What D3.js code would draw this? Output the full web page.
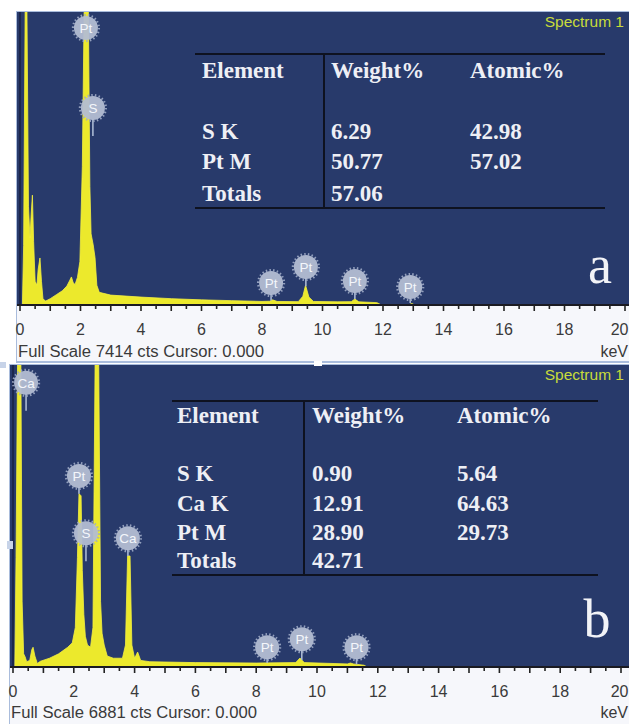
<!DOCTYPE html>
<html>
<head>
<meta charset="utf-8">
<script src="https://cdn.jsdelivr.net/npm/d3@7"></script>
<style>
  html, body { margin: 0; padding: 0; background: #ffffff; }
  svg { display: block; }
</style>
</head>
<body>
<svg id="chart" width="629" height="724"></svg>
<script>
// ---------------- DATA ----------------
// Spectrum a (keV, counts), full scale 7414 cts
const energyA = [0, 0.08, 0.12, 0.17, 0.23, 0.28, 0.33, 0.37, 0.41, 0.45, 0.5, 0.56, 0.6, 0.66, 0.71, 0.76, 0.85, 1.0, 1.2, 1.4, 1.55, 1.65, 1.7, 1.76, 1.82, 1.9, 1.98, 2.06, 2.12, 2.26, 2.31, 2.35, 2.42, 2.48, 2.54, 2.62, 3.0, 4.0, 5.0, 6.0, 7.0, 8.0, 8.25, 8.35, 8.5, 9.2, 9.35, 9.44, 9.55, 9.7, 10.5, 10.95, 11.07, 11.2, 11.8, 11.95, 12.85, 12.95, 13.05, 20];
const countsA = [0, 0, 1500, 7414, 7414, 2500, 1700, 2300, 2780, 1600, 600, 500, 900, 1190, 600, 150, 100, 160, 260, 360, 480, 630, 710, 560, 520, 700, 1100, 3500, 7414, 7414, 3000, 1800, 1520, 1200, 500, 320, 250, 200, 160, 130, 110, 90, 95, 130, 90, 85, 220, 500, 200, 90, 80, 85, 150, 80, 60, 0, 0, 40, 0, 0];
const fullScaleA = 7414;

// Spectrum b (keV, counts), full scale 6881 cts
const energyB = [0, 0.06, 0.1, 0.15, 0.26, 0.3, 0.35, 0.4, 0.45, 0.55, 0.62, 0.66, 0.72, 0.8, 0.9, 1.2, 1.5, 1.8, 1.95, 2.05, 2.12, 2.17, 2.24, 2.28, 2.33, 2.38, 2.45, 2.55, 2.63, 2.7, 2.82, 2.88, 2.93, 3.0, 3.1, 3.3, 3.6, 3.7, 3.77, 3.85, 3.91, 4.0, 4.1, 4.2, 4.5, 6.0, 8.0, 9.3, 9.44, 9.58, 11.0, 11.1, 11.2, 11.55, 11.65, 20];
const countsB = [0, 0, 2500, 6881, 6881, 1500, 300, 230, 120, 150, 400, 450, 250, 80, 130, 200, 300, 450, 550, 900, 2500, 3950, 3900, 2200, 1200, 700, 500, 450, 900, 6881, 6881, 1500, 770, 500, 250, 200, 200, 500, 2530, 2530, 500, 200, 340, 150, 120, 100, 90, 100, 203, 100, 70, 90, 70, 40, 0, 0];
const fullScaleB = 6881;

// Peak labels
const labelTextA = ["Pt", "S", "Pt", "Pt", "Pt", "Pt"];
const labelKevA  = [2.18, 2.41, 8.3, 9.45, 11.07, 12.9];
const labelCntA  = [7008, 4984, 556, 961, 607, 455];

const labelTextB = ["Ca", "Pt", "S", "Ca", "Pt", "Pt", "Pt"];
const labelKevB  = [0.43, 2.17, 2.4, 3.78, 8.36, 9.5, 11.3];
const labelCntB  = [6475, 4354, 3046, 2933, 451, 632, 451];

// Quantification tables
const tableHeader = ["Element", "Weight%", "Atomic%"];
const elementsA = ["S K", "Pt M", "Totals"];
const weightA   = ["6.29", "50.77", "57.06"];
const atomicA   = ["42.98", "57.02", ""];
const elementsB = ["S K", "Ca K", "Pt M", "Totals"];
const weightB   = ["0.90", "12.91", "28.90", "42.71"];
const atomicB   = ["5.64", "64.63", "29.73", ""];

const xTickLabels = [0, 2, 4, 6, 8, 10, 12, 14, 16, 18, 20];
const panelLetters = ["a", "b"];

// ---------------- DRAW ----------------
const svg = d3.select("#chart");
const BG = "#283a6b";
const YEL = "#ece92c";

function panel(cfg) {
  const g = svg.append("g");
  g.append("rect").attr("x", cfg.left - 1).attr("y", cfg.top - 1)
    .attr("width", 629 - cfg.left + 1).attr("height", cfg.frameBottom - cfg.top + 2)
    .attr("fill", "#a9bcdc");
  g.append("rect").attr("x", cfg.left).attr("y", cfg.axisTop)
    .attr("width", 629 - cfg.left).attr("height", cfg.frameBottom - cfg.axisTop - 1)
    .attr("fill", "#f6f7fb");
  g.append("rect").attr("x", cfg.left).attr("y", cfg.top)
    .attr("width", 629 - cfg.left).attr("height", cfg.base - cfg.top)
    .attr("fill", BG);

  const x = d3.scaleLinear().domain([0, 20]).range([cfg.x0, cfg.x20]);
  const y = d3.scaleLinear().domain([0, cfg.fullScale]).range([cfg.base, cfg.top]);

  const clipId = "clip" + cfg.id;
  svg.append("clipPath").attr("id", clipId).append("rect")
    .attr("x", cfg.left).attr("y", cfg.top).attr("width", 629 - cfg.left).attr("height", cfg.base - cfg.top);

  const pts = cfg.energy.map((e, i) => [e, Math.min(cfg.counts[i], cfg.fullScale * 1.02)]);
  const area = d3.area().x(d => x(d[0])).y0(cfg.base).y1(d => y(d[1]));
  g.append("path").datum(pts).attr("d", area).attr("fill", YEL)
    .attr("stroke", "#f4f040").attr("stroke-width", 0.8).attr("clip-path", `url(#${clipId})`);

  g.append("line").attr("x1", x(0)).attr("x2", x(0)).attr("y1", cfg.top).attr("y2", cfg.base)
    .attr("stroke", "#141c38").attr("stroke-width", 1.2);
  g.append("line").attr("x1", cfg.left).attr("x2", 629).attr("y1", cfg.base).attr("y2", cfg.base)
    .attr("stroke", "#1a1a22").attr("stroke-width", 2);

  const ticks = d3.range(0, 20.01, 0.5);
  g.selectAll(".tk").data(ticks).join("line")
    .attr("x1", d => x(d)).attr("x2", d => x(d))
    .attr("y1", cfg.base).attr("y2", d => cfg.base + (Math.abs(d - Math.round(d)) < 1e-6 ? 6 : 4))
    .attr("stroke", "#222").attr("stroke-width", 1.6);

  g.selectAll(".tl").data(xTickLabels).join("text")
    .attr("x", d => d === 20 ? 628.5 : x(d)).attr("y", cfg.tickBase)
    .attr("text-anchor", d => d === 20 ? "end" : "middle")
    .attr("font-family", "Liberation Sans, Arial, sans-serif").attr("font-size", 16)
    .attr("fill", "#3a3a3a").text(d => d);

  g.append("text").attr("x", cfg.left + 1).attr("y", cfg.fsBase)
    .attr("font-family", "Liberation Sans, Arial, sans-serif").attr("font-size", 16)
    .attr("fill", "#3a3a3a").attr("textLength", 246).attr("lengthAdjust", "spacingAndGlyphs")
    .text(`Full Scale ${cfg.fullScale} cts Cursor: 0.000`);
  g.append("text").attr("x", 628).attr("y", cfg.fsBase).attr("text-anchor", "end")
    .attr("font-family", "Liberation Sans, Arial, sans-serif").attr("font-size", 16)
    .attr("fill", "#3a3a3a").text("keV");

  g.append("text").attr("x", 624).attr("y", cfg.top + 15).attr("text-anchor", "end")
    .attr("font-family", "Liberation Sans, Arial, sans-serif").attr("font-size", 15.5)
    .attr("fill", "#c9dc3a").text("Spectrum 1");

  const R = 12;
  const interp = e => {
    for (let i = 1; i < cfg.energy.length; i++) {
      if (cfg.energy[i] >= e) {
        const t = (e - cfg.energy[i - 1]) / (cfg.energy[i] - cfg.energy[i - 1]);
        return cfg.counts[i - 1] + t * (cfg.counts[i] - cfg.counts[i - 1]);
      }
    }
    return 0;
  };
  cfg.labelText.forEach((t, i) => {
    const cx = x(cfg.labelKev[i]), cy = y(cfg.labelCnt[i]);
    const peakY = Math.min(cfg.base - 2, y(Math.min(interp(cfg.labelKev[i]), cfg.fullScale)));
    const stemEnd = Math.min(peakY, cy + R + 16);
    if (stemEnd > cy + R) {
      g.append("line").attr("x1", cx).attr("x2", cx).attr("y1", cy + R - 1).attr("y2", stemEnd)
        .attr("stroke", "#a9b8d2").attr("stroke-width", 1.6);
    }
    g.append("circle").attr("cx", cx).attr("cy", cy).attr("r", R + 1)
      .attr("fill", "none").attr("stroke", "#9eabc6").attr("stroke-width", 2.2)
      .attr("stroke-dasharray", "1.5 2.2").attr("opacity", 0.9);
    g.append("circle").attr("cx", cx).attr("cy", cy).attr("r", R)
      .attr("fill", "#b3bdd3").attr("opacity", 0.95);
    g.append("text").attr("x", cx).attr("y", cy + 5).attr("text-anchor", "middle")
      .attr("font-family", "Liberation Sans, Arial, sans-serif").attr("font-size", 13.5)
      .attr("fill", "#f4f6fb").text(t);
  });

  const tb = cfg.table;
  const serif = "Liberation Serif, Times New Roman, serif";
  g.append("line").attr("x1", tb.x1).attr("x2", tb.x2).attr("y1", tb.yTop).attr("y2", tb.yTop)
    .attr("stroke", "#0e1220").attr("stroke-width", 2);
  g.append("line").attr("x1", tb.x1).attr("x2", tb.x2).attr("y1", tb.yBot).attr("y2", tb.yBot)
    .attr("stroke", "#0e1220").attr("stroke-width", 2);
  g.append("line").attr("x1", tb.xv).attr("x2", tb.xv).attr("y1", tb.yTop).attr("y2", tb.yBot)
    .attr("stroke", "#0e1220").attr("stroke-width", 2);
  const txt = (s, xx, yy) => g.append("text").attr("x", xx).attr("y", yy)
    .attr("font-family", serif).attr("font-weight", "bold").attr("font-size", 23)
    .attr("fill", "#eeeff5").text(s);
  tableHeader.forEach((h, j) => txt(h, tb.cols[j], tb.headY));
  tb.el.forEach((s, i) => {
    txt(s, tb.cols[0], tb.rowY[i]);
    txt(tb.w[i], tb.cols[1], tb.rowY[i]);
    if (tb.a[i]) txt(tb.a[i], tb.cols[2], tb.rowY[i]);
  });

  g.append("text").attr("x", cfg.letterX).attr("y", cfg.letterY).attr("text-anchor", "middle")
    .attr("font-family", serif).attr("font-size", 54).attr("fill", "#f2f3f7").text(cfg.letter);
}

panel({
  id: "a", left: 17, top: 12, base: 305, axisTop: 306, frameBottom: 362,
  x0: 20, x20: 625, tickBase: 335, fsBase: 357,
  energy: energyA, counts: countsA, fullScale: fullScaleA,
  labelText: labelTextA, labelKev: labelKevA, labelCnt: labelCntA,
  table: { x1: 195, x2: 605, xv: 324, yTop: 54, yBot: 208, cols: [202, 331, 470],
           headY: 78, rowY: [139, 169, 201], el: elementsA, w: weightA, a: atomicA },
  letter: panelLetters[0], letterX: 600, letterY: 283
});

panel({
  id: "b", left: 10, top: 365, base: 667, axisTop: 668, frameBottom: 726,
  x0: 13, x20: 621, tickBase: 697, fsBase: 718,
  energy: energyB, counts: countsB, fullScale: fullScaleB,
  labelText: labelTextB, labelKev: labelKevB, labelCnt: labelCntB,
  table: { x1: 172, x2: 598, xv: 304, yTop: 401, yBot: 575, cols: [177, 312, 457],
           headY: 423, rowY: [481, 511, 540, 568], el: elementsB, w: weightB, a: atomicB },
  letter: panelLetters[1], letterX: 597, letterY: 637
});

svg.append("rect").attr("x", 314).attr("y", 361).attr("width", 8).attr("height", 5).attr("fill", "#ffffff");
svg.append("rect").attr("x", 7).attr("y", 541).attr("width", 6).attr("height", 8).attr("fill", "#c7d3e8");
svg.append("rect").attr("x", 0).attr("y", 362).attr("width", 6).attr("height", 6).attr("fill", "#c7d3e8");
</script>
</body>
</html>
